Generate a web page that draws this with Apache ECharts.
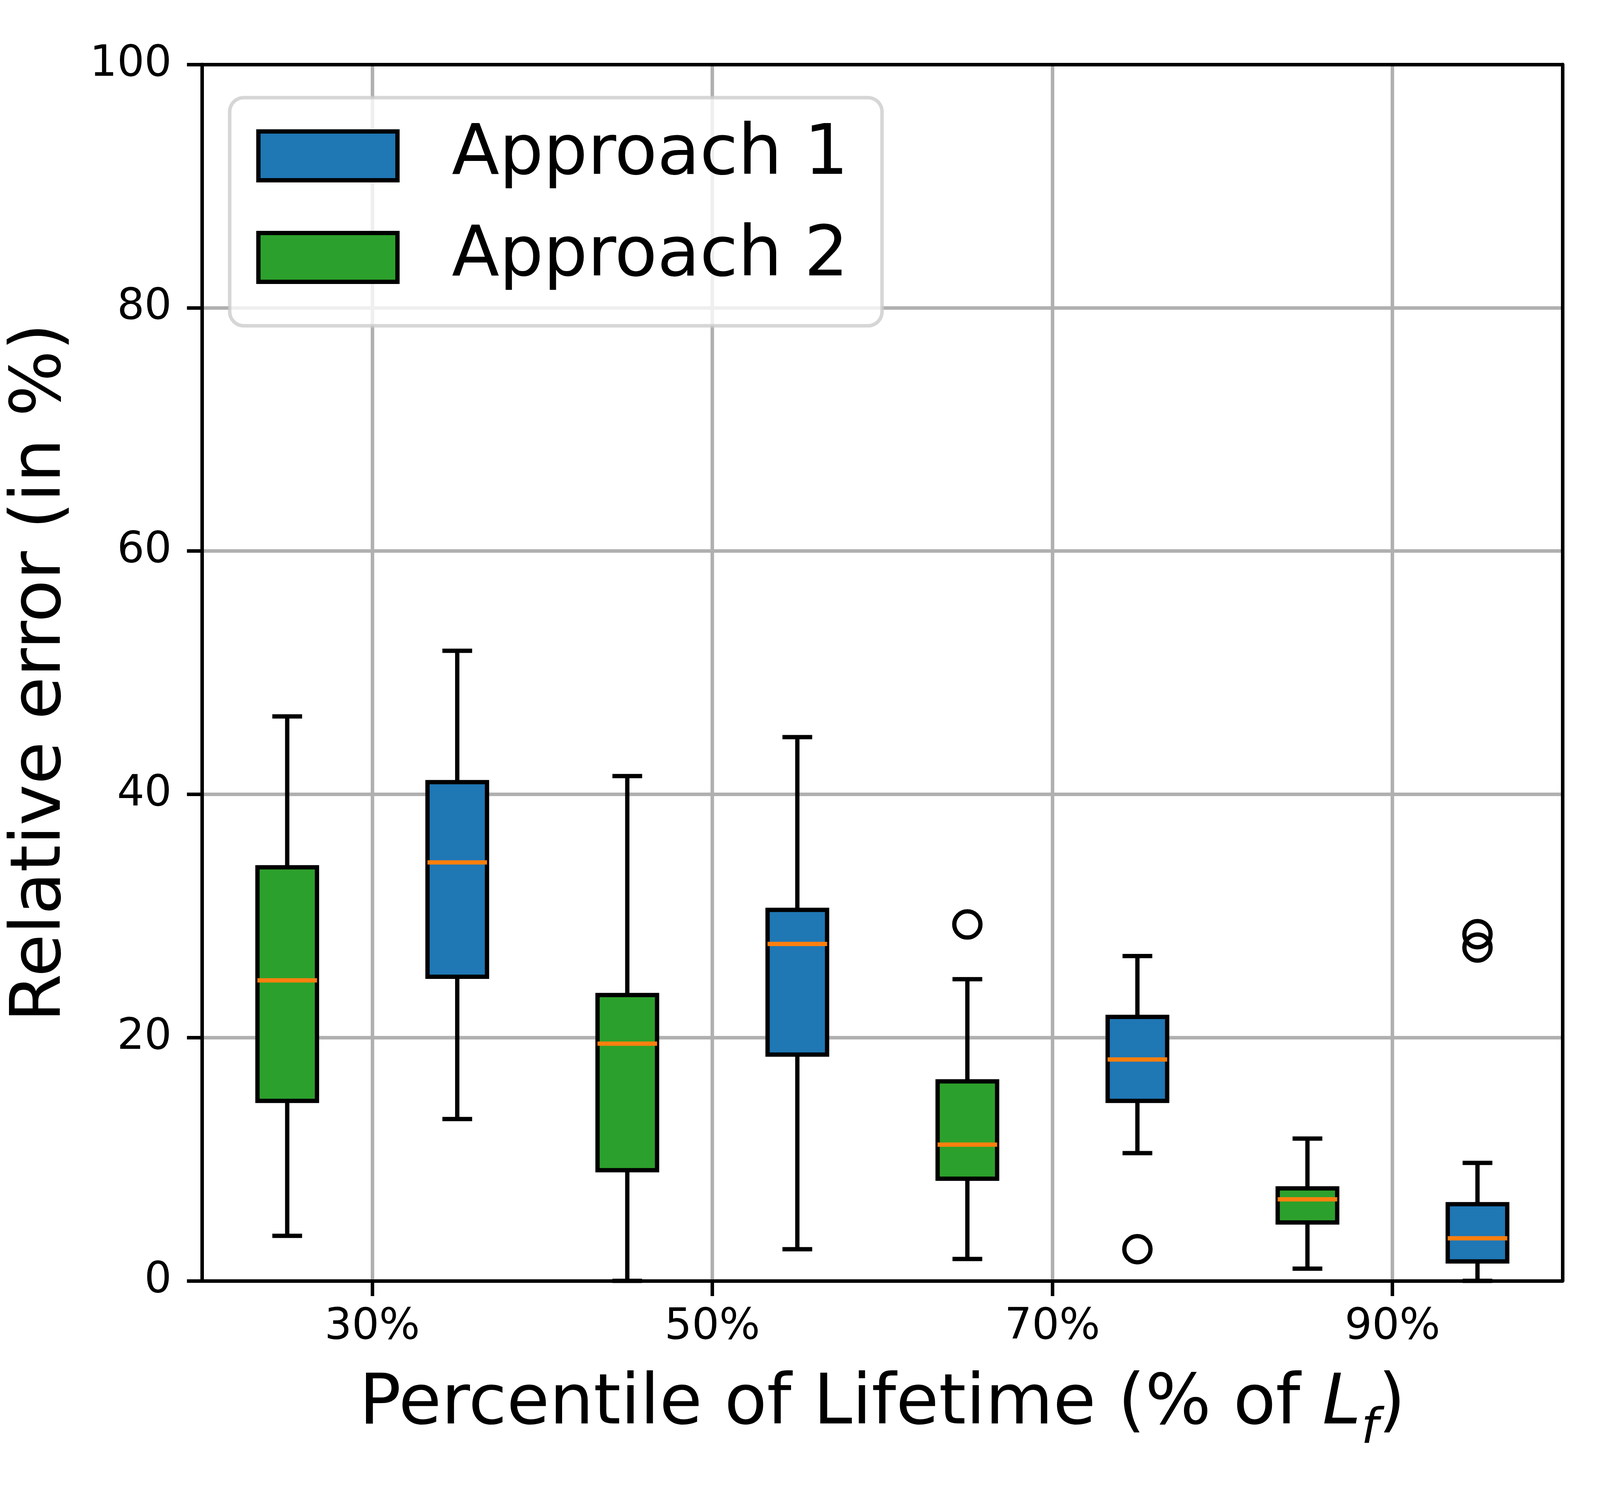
<!DOCTYPE html>
<html><head><meta charset="utf-8">
<script src="https://cdn.jsdelivr.net/npm/echarts@6/dist/echarts.min.js"></script>
<style>html,body{margin:0;padding:0;background:#fff;overflow:hidden}#c{width:100vw;height:100vh}</style>
</head><body><div id="c"></div>
<script>
// ---- data ----
const xTickValues = [30, 50, 70, 90];           // x tick labels (percent)
const yTickValues = [0, 20, 40, 60, 80, 100];

const approach1Positions = [35, 55, 75, 95];
const approach1Min    = [13.3, 2.6, 10.5, 0.0];
const approach1Q1     = [25.0, 18.6, 14.8, 1.6];
const approach1Median = [34.4, 27.7, 18.2, 3.5];
const approach1Q3     = [41.0, 30.5, 21.7, 6.3];
const approach1Max    = [51.8, 44.7, 26.7, 9.7];
const approach1OutlierX = [75, 95, 95];
const approach1OutlierY = [2.6, 28.5, 27.4];

const approach2Positions = [25, 45, 65, 85];
const approach2Min    = [3.7, 0.0, 1.8, 1.0];
const approach2Q1     = [14.8, 9.1, 8.4, 4.8];
const approach2Median = [24.7, 19.5, 11.2, 6.7];
const approach2Q3     = [34.0, 23.5, 16.4, 7.6];
const approach2Max    = [46.4, 41.5, 24.8, 11.7];
const approach2OutlierX = [65];
const approach2OutlierY = [29.3];

const seriesNames = ['Approach 1', 'Approach 2'];
const seriesColors = ['#1f77b4', '#2ca02c'];

// ---- build ----
const FONT = 'DejaVu Sans';
const BOX_W = 3.5;   // box width in x-axis units
const LW = 11;
const el = document.getElementById('c');
const W = el.clientWidth || window.innerWidth, H = el.clientHeight || window.innerHeight;
const sx = W / 5120, sy = H / 3840;
const X_MIN = 20, X_MAX = 100;

function rows(pos, mn, q1, md, q3, mx) {
  return pos.map((p, i) => [p, mn[i], q1[i], md[i], q3[i], mx[i]]);
}
function pts(xs, ys) { return xs.map((x, i) => [x, ys[i]]); }

function makeRender(color) {
  return function (params, api) {
    const x = api.value(0);
    const pMin = api.coord([x, api.value(1)]);
    const pQ1 = api.coord([x, api.value(2)]);
    const pMed = api.coord([x, api.value(3)]);
    const pQ3 = api.coord([x, api.value(4)]);
    const pMax = api.coord([x, api.value(5)]);
    const half = api.size([BOX_W, 0])[0] / 2;
    const cx = pQ1[0];
    const ls = { stroke: '#000', lineWidth: LW };
    return {
      type: 'group',
      children: [
        { type: 'line', shape: { x1: cx, y1: pQ1[1], x2: cx, y2: pMin[1] }, style: ls },
        { type: 'line', shape: { x1: cx, y1: pQ3[1], x2: cx, y2: pMax[1] }, style: ls },
        { type: 'rect', shape: { x: cx - half, y: pQ3[1], width: 2 * half, height: pQ1[1] - pQ3[1] },
          style: { fill: color, stroke: '#000', lineWidth: LW } },
        { type: 'line', shape: { x1: cx - half / 2, y1: pMin[1], x2: cx + half / 2, y2: pMin[1] }, style: ls },
        { type: 'line', shape: { x1: cx - half / 2, y1: pMax[1], x2: cx + half / 2, y2: pMax[1] }, style: ls },
        { type: 'line', shape: { x1: cx - half, y1: pMed[1], x2: cx + half, y2: pMed[1] },
          style: { stroke: '#ff7f0e', lineWidth: LW } }
      ]
    };
  };
}

const chart = echarts.init(el, null, { renderer: 'canvas', width: W, height: H });

const spineOnly = {
  axisLine: { show: true, onZero: false, lineStyle: { color: '#000', width: 9 } },
  axisTick: { show: false }, axisLabel: { show: false }, splitLine: { show: false }, z: 6
};

const option = {
  backgroundColor: '#fff',
  animation: false,
  textStyle: { fontFamily: FONT },
  grid: { left: 647 * sx, right: 120 * sx, top: 165 * sy, bottom: 561 * sy, show: false },
  legend: {
    orient: 'vertical',
    left: 735 * sx, top: 250 * sy,
    padding: [60, 86, 86, 68],
    itemWidth: 356, itemHeight: 125, itemGap: 82,
    icon: 'rect',
    backgroundColor: 'rgba(255,255,255,0.8)',
    borderColor: 'rgba(204,204,204,0.8)', borderWidth: 9, borderRadius: 36,
    textStyle: { fontSize: 178, fontFamily: FONT, color: '#000', padding: [0, 0, 0, 134] },
    data: [
      { name: seriesNames[0], itemStyle: { color: seriesColors[0], borderColor: '#000', borderWidth: LW } },
      { name: seriesNames[1], itemStyle: { color: seriesColors[1], borderColor: '#000', borderWidth: LW } }
    ]
  },
  xAxis: [{
    type: 'value', min: X_MIN, max: X_MAX,
    name: '{a|Percentile of Lifetime (% of }{i|L}{s|f}{a|)}',
    nameLocation: 'middle', nameGap: 230 * sy,
    nameTextStyle: {
      fontSize: 178, color: '#000', fontFamily: FONT,
      rich: {
        a: { fontSize: 178, fontFamily: FONT, color: '#000', verticalAlign: 'top', lineHeight: 178 },
        i: { fontSize: 178, fontFamily: FONT, color: '#000', fontStyle: 'italic', verticalAlign: 'top', lineHeight: 178 },
        s: { fontSize: 125, fontFamily: FONT, color: '#000', fontStyle: 'italic', verticalAlign: 'top', lineHeight: 125, padding: [90, 0, 0, 0] }
      }
    },
    axisLine: { show: true, onZero: false, lineStyle: { color: '#000', width: 9 } },
    axisTick: { show: true, length: 39, lineStyle: { color: '#000', width: 9 }, customValues: xTickValues },
    axisLabel: { fontSize: 110, color: '#000', margin: 64, fontFamily: FONT, customValues: xTickValues, formatter: v => v + '%' },
    splitLine: { show: true, lineStyle: { color: '#b0b0b0', width: 9 } },
    z: 2
  }, Object.assign({ type: 'value', min: X_MIN, max: X_MAX, position: 'top' }, spineOnly)],
  yAxis: [{
    type: 'value', min: yTickValues[0], max: yTickValues[yTickValues.length - 1], interval: 20,
    name: 'Relative error (in %)', nameLocation: 'middle', nameGap: 322,
    nameTextStyle: { fontSize: 178, color: '#000', fontFamily: FONT },
    axisLine: { show: true, onZero: false, lineStyle: { color: '#000', width: 9 } },
    axisTick: { show: true, length: 39, lineStyle: { color: '#000', width: 9 } },
    axisLabel: { fontSize: 110, color: '#000', margin: 78, fontFamily: FONT },
    splitLine: { show: true, lineStyle: { color: '#b0b0b0', width: 9 } },
    z: 2
  }, Object.assign({ type: 'value', min: yTickValues[0], max: yTickValues[yTickValues.length - 1], position: 'right' }, spineOnly)],
  series: [
    {
      name: seriesNames[0], type: 'custom', z: 3,
      itemStyle: { color: seriesColors[0] },
      renderItem: makeRender(seriesColors[0]),
      encode: { x: 0, y: [1, 2, 3, 4, 5] },
      data: rows(approach1Positions, approach1Min, approach1Q1, approach1Median, approach1Q3, approach1Max),
      clip: false
    },
    {
      name: seriesNames[1], type: 'custom', z: 3,
      itemStyle: { color: seriesColors[1] },
      renderItem: makeRender(seriesColors[1]),
      encode: { x: 0, y: [1, 2, 3, 4, 5] },
      data: rows(approach2Positions, approach2Min, approach2Q1, approach2Median, approach2Q3, approach2Max),
      clip: false
    },
    {
      name: 'fliers1', type: 'scatter', z: 4, symbol: 'circle', symbolSize: 67,
      itemStyle: { color: 'rgba(0,0,0,0)', borderColor: '#000', borderWidth: LW, opacity: 1 },
      data: pts(approach1OutlierX, approach1OutlierY)
    },
    {
      name: 'fliers2', type: 'scatter', z: 4, symbol: 'circle', symbolSize: 67,
      itemStyle: { color: 'rgba(0,0,0,0)', borderColor: '#000', borderWidth: LW, opacity: 1 },
      data: pts(approach2OutlierX, approach2OutlierY)
    }
  ]
};
chart.setOption(option);
</script>
</body></html>
